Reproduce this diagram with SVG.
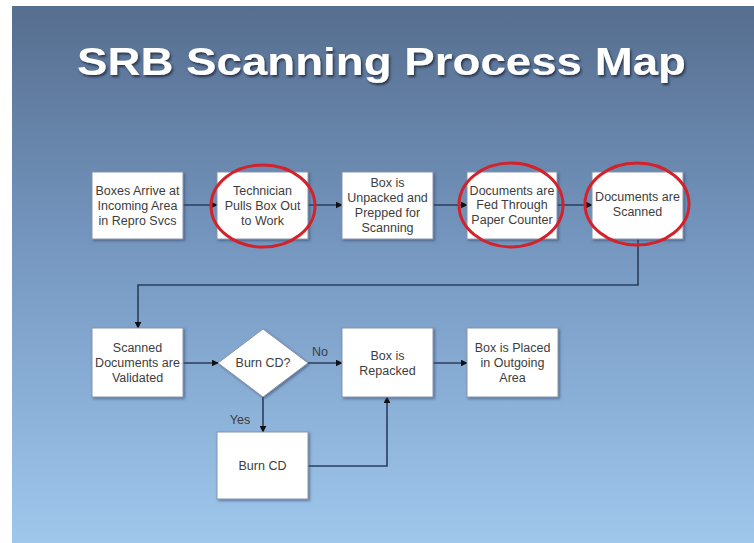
<svg xmlns="http://www.w3.org/2000/svg" width="754" height="543" viewBox="0 0 754 543">
<defs>
  <linearGradient id="bg" x1="0" y1="0" x2="0" y2="1">
    <stop offset="0" stop-color="#566e8f"/>
    <stop offset="0.45" stop-color="#7597c0"/>
    <stop offset="1" stop-color="#9fc7ec"/>
  </linearGradient>
  <filter id="tshadow" x="-5%" y="-20%" width="110%" height="150%">
    <feDropShadow dx="1.5" dy="2" stdDeviation="1.2" flood-color="#1e2c40" flood-opacity="0.85"/>
  </filter>
  <filter id="bshadow" x="-10%" y="-10%" width="125%" height="125%">
    <feDropShadow dx="1.5" dy="1.5" stdDeviation="0.8" flood-color="#34486a" flood-opacity="0.6"/>
  </filter>
  <marker id="arr" viewBox="0 0 10 10" refX="9" refY="5" markerWidth="7" markerHeight="7" markerUnits="userSpaceOnUse" orient="auto">
    <path d="M0,0 L10,5 L0,10 z" fill="#111"/>
  </marker>
  <style>
    .box { fill: #ffffff; stroke: #8795aa; stroke-width: 1; filter: url(#bshadow); }
    .lbl { font-family: "Liberation Sans", Arial, sans-serif; font-size: 12.5px; fill: #3d3d3d; text-anchor: middle; }
    .conn { fill: none; stroke: #2b3e5c; stroke-width: 1.6; }
    .ring { fill: none; stroke: #d4222b; stroke-width: 3; }
    .title { font-family: "Liberation Sans", Arial, sans-serif; font-weight: bold; font-size: 38px; fill: #ffffff; }
  </style>
</defs>

<rect x="0" y="0" width="754" height="543" fill="#ffffff"/>
<rect x="12" y="6" width="742" height="537" fill="url(#bg)"/>

<text class="title" x="77" y="75" textLength="609" lengthAdjust="spacingAndGlyphs" filter="url(#tshadow)">SRB Scanning Process Map</text>

<g id="connectors">
  <line class="conn" x1="183" y1="205" x2="217" y2="205" marker-end="url(#arr)"/>
  <line class="conn" x1="308" y1="205" x2="342" y2="205" marker-end="url(#arr)"/>
  <line class="conn" x1="433" y1="205" x2="467" y2="205" marker-end="url(#arr)"/>
  <line class="conn" x1="557" y1="205" x2="592" y2="205" marker-end="url(#arr)"/>
  <polyline class="conn" points="638,239 638,285 138,285 138,328" marker-end="url(#arr)"/>
  <line class="conn" x1="183" y1="363" x2="218" y2="363" marker-end="url(#arr)"/>
  <line class="conn" x1="308" y1="363" x2="342" y2="363" marker-end="url(#arr)"/>
  <line class="conn" x1="433" y1="363" x2="467" y2="363" marker-end="url(#arr)"/>
  <line class="conn" x1="263" y1="397" x2="263" y2="432" marker-end="url(#arr)"/>
  <polyline class="conn" points="308,466 387,466 387,397" marker-end="url(#arr)"/>
  <text class="lbl" x="320" y="356">No</text>
  <text class="lbl" x="240" y="424">Yes</text>
</g>

<g id="n1">
  <rect class="box" x="92" y="172" width="91" height="67"/>
  <text class="lbl" x="137.5" y="195">Boxes Arrive at</text>
  <text class="lbl" x="137.5" y="210">Incoming Area</text>
  <text class="lbl" x="137.5" y="225">in Repro Svcs</text>
</g>
<g id="n2">
  <rect class="box" x="217" y="172" width="91" height="67"/>
  <text class="lbl" x="262.5" y="195">Technician</text>
  <text class="lbl" x="262.5" y="210">Pulls Box Out</text>
  <text class="lbl" x="262.5" y="225">to Work</text>
  <ellipse class="ring" cx="263" cy="206" rx="52" ry="41"/>
</g>
<g id="n3">
  <rect class="box" x="342" y="172" width="91" height="67"/>
  <text class="lbl" x="387.5" y="187">Box is</text>
  <text class="lbl" x="387.5" y="202">Unpacked and</text>
  <text class="lbl" x="387.5" y="217">Prepped for</text>
  <text class="lbl" x="387.5" y="232">Scanning</text>
</g>
<g id="n4">
  <rect class="box" x="467" y="172" width="90" height="67"/>
  <text class="lbl" x="512" y="195">Documents are</text>
  <text class="lbl" x="512" y="209">Fed Through</text>
  <text class="lbl" x="512" y="224">Paper Counter</text>
  <ellipse class="ring" cx="511" cy="205" rx="52" ry="42"/>
</g>
<g id="n5">
  <rect class="box" x="592" y="172" width="91" height="67"/>
  <text class="lbl" x="637.5" y="201">Documents are</text>
  <text class="lbl" x="637.5" y="216">Scanned</text>
  <ellipse class="ring" cx="637" cy="204" rx="52" ry="41"/>
</g>
<g id="n6">
  <rect class="box" x="92" y="328" width="91" height="69"/>
  <text class="lbl" x="137.5" y="352">Scanned</text>
  <text class="lbl" x="137.5" y="367">Documents are</text>
  <text class="lbl" x="137.5" y="382">Validated</text>
</g>
<g id="n7">
  <polygon class="box" points="263,329 308,363 263,397 218,363"/>
  <text class="lbl" x="263" y="367">Burn CD?</text>
</g>
<g id="n8">
  <rect class="box" x="342" y="328" width="91" height="69"/>
  <text class="lbl" x="387.5" y="360">Box is</text>
  <text class="lbl" x="387.5" y="375">Repacked</text>
</g>
<g id="n9">
  <rect class="box" x="467" y="328" width="91" height="69"/>
  <text class="lbl" x="512.5" y="352">Box is Placed</text>
  <text class="lbl" x="512.5" y="367">in Outgoing</text>
  <text class="lbl" x="512.5" y="382">Area</text>
</g>
<g id="n10">
  <rect class="box" x="217" y="432" width="91" height="67"/>
  <text class="lbl" x="262.5" y="470">Burn CD</text>
</g>
</svg>
